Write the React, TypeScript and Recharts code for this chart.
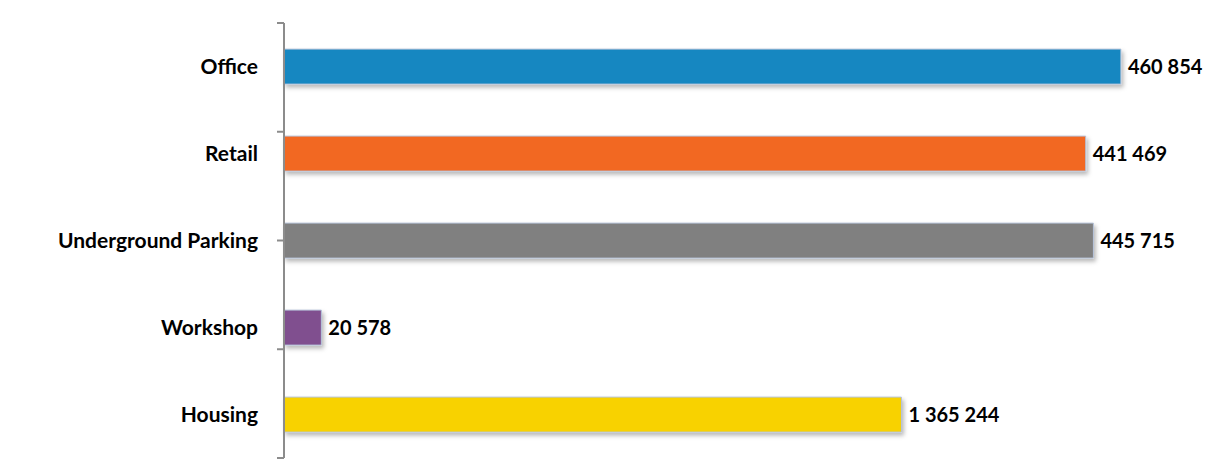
import React from "react";
import { BarChart, Bar, XAxis, YAxis, Cell, LabelList } from "recharts";

const categories = ["Office", "Retail", "Underground Parking", "Workshop", "Housing"];
// bar lengths
const barValues = [460854, 441469, 445715, 20578, 340000];
// values printed next to the bars
const labelValues = [460854, 441469, 445715, 20578, 1365244];
const colors = ["#1787C1", "#F26724", "#808080", "#80508F", "#F8D200"];
const boundaryTicks = [0, 1, 2, 3, 4, 5];

const data = categories.map((name, i) => ({
  name,
  value: barValues[i],
  label: labelValues[i],
}));

const fmt = (v: number) => String(v).replace(/\B(?=(\d{3})+(?!\d))/g, " ");

const FONT = "Lato, 'Noto Sans', sans-serif";

const EmptyTick = () => <g />;

export default function App() {
  return (
    <div style={{ width: 1203, height: 454 }}>
      <BarChart
        width={1203}
        height={454}
        data={data}
        layout="vertical"
        margin={{ top: 15, right: 19, bottom: 4, left: 0 }}
        barCategoryGap="30%"
        style={{ overflow: "visible" }}
      >
        <defs>
          <filter id="barShadow" x="-10%" y="-30%" width="130%" height="180%">
            <feDropShadow dx="2" dy="3" stdDeviation="2.2" floodColor="#000" floodOpacity="0.28" />
          </filter>
        </defs>
        <XAxis type="number" hide domain={[0, 500000]} />
        <YAxis
          yAxisId="bounds"
          type="number"
          domain={[0, 5]}
          ticks={boundaryTicks}
          interval={0}
          width={1}
          tick={EmptyTick}
          tickSize={7}
          axisLine={{ stroke: "#8C8C8C", strokeWidth: 2 }}
          tickLine={{ stroke: "#8C8C8C", strokeWidth: 2 }}
        />
        <YAxis
          yAxisId="cat"
          type="category"
          dataKey="name"
          width={275}
          axisLine={false}
          tickLine={false}
          tickSize={0}
          tickMargin={25}
          interval={0}
          tick={{ fill: "#000", fontSize: 21, fontWeight: 700, fontFamily: FONT }}
        />
        <Bar
          yAxisId="cat"
          dataKey="value"
          isAnimationActive={false}
          stroke="#B7C4DA"
          strokeWidth={1}
          style={{ filter: "url(#barShadow)" }}
        >
          {data.map((d, i) => (
            <Cell key={d.name} fill={colors[i]} />
          ))}
          <LabelList
            dataKey="label"
            position="right"
            offset={7}
            formatter={(v: any) => fmt(Number(v))}
            style={{ fill: "#000", fontSize: 20, fontWeight: 700, fontFamily: FONT }}
          />
        </Bar>
      </BarChart>
    </div>
  );
}
